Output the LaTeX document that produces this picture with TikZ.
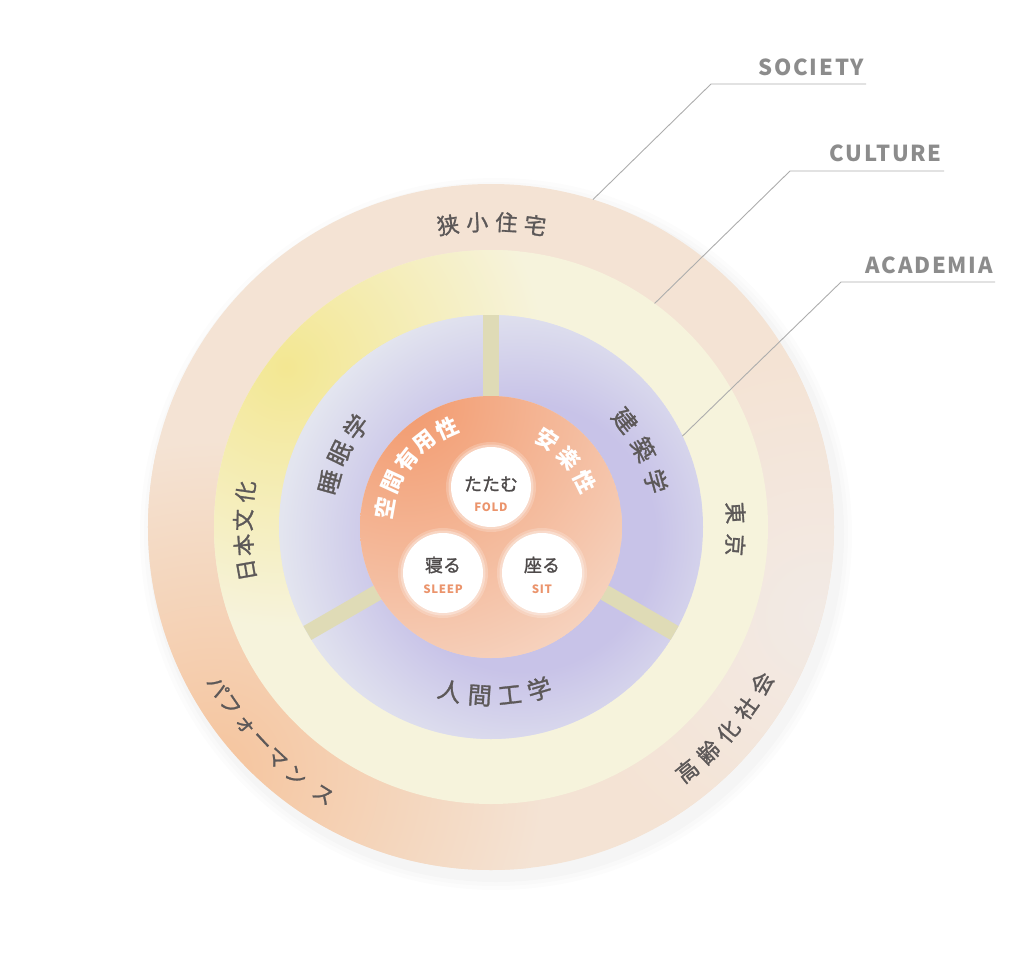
\documentclass[tikz,border=0pt]{standalone}
\usepackage{fontspec}
\newfontfamily\cjk[FakeBold=1.2]{Noto Sans CJK JP}
\newfontfamily\cjkb{Noto Sans CJK JP}
\newfontfamily\latinlab[LetterSpace=8]{Noto Sans CJK JP}
\newfontfamily\latinsub[LetterSpace=6]{Noto Sans CJK JP}
\definecolor{socbase}{HTML}{F4E3D4}
\definecolor{socorange}{HTML}{F5C49D}
\definecolor{socpale}{HTML}{F2EAE5}
\definecolor{culbase}{HTML}{F6F3DC}
\definecolor{culyellow}{HTML}{F3E792}
\definecolor{acadgray}{HTML}{E3E5EF}
\definecolor{acadpurple}{HTML}{C8C3E8}
\definecolor{gapcol}{HTML}{DFDBB6}
\definecolor{coreA}{HTML}{F29A6E}
\definecolor{coreB}{HTML}{F6D5C2}
\definecolor{txt}{HTML}{5C5858}
\definecolor{txtdark}{HTML}{4E4A4A}
\definecolor{subcol}{HTML}{EB946C}
\definecolor{labgray}{HTML}{8C8C8C}
\definecolor{linegray}{HTML}{ADADAD}
\pgfdeclareradialshading{socblob}{\pgfpoint{0bp}{0bp}}{color(0bp)=(socorange); color(25bp)=(socbase); color(50bp)=(socbase)}
\pgfdeclareradialshading{paleblob}{\pgfpoint{0bp}{0bp}}{color(0bp)=(socpale); color(25bp)=(socbase); color(50bp)=(socbase)}
\pgfdeclareradialshading{culblob}{\pgfpoint{0bp}{0bp}}{color(0bp)=(culyellow); color(25bp)=(culbase); color(50bp)=(culbase)}
\pgfdeclareradialshading{acadblob}{\pgfpoint{0bp}{0bp}}{color(0bp)=(acadpurple); color(14bp)=(acadpurple); color(25bp)=(acadgray); color(50bp)=(acadgray)}
\pgfdeclareradialshading{coreblob}{\pgfpoint{0bp}{0bp}}{color(0bp)=(coreA); color(25bp)=(coreB); color(50bp)=(coreB)}
\tikzset{
  soclab/.style={text=txt, font=\cjk\fontsize{22}{22}\selectfont, inner sep=0pt},
  kanalab/.style={text=txt, font=\cjk\fontsize{21}{21}\selectfont, inner sep=0pt},
  cullab/.style={text=txt, font=\cjk\fontsize{22}{22}\selectfont, inner sep=0pt},
  acadlab/.style={text=txt, font=\cjk\fontsize{24}{24}\selectfont, inner sep=0pt},
  corelab/.style={text=white, font=\cjkb\bfseries\fontsize{22}{22}\selectfont, inner sep=0pt},
  actlab/.style={text=txtdark, font=\cjk\fontsize{18}{18}\selectfont, inner sep=0pt},
  actsub/.style={text=subcol, font=\latinsub\bfseries\fontsize{11.5}{11.5}\selectfont, inner sep=0pt},
  actcircle/.style={circle, fill=white, minimum size=80pt, inner sep=0pt},
  leader/.style={draw=linegray, line width=0.9pt},
  layerlab/.style={text=labgray, font=\latinlab\bfseries\fontsize{22}{22}\selectfont, inner sep=0pt, anchor=base east},
}
\begin{document}
\begin{tikzpicture}[x=1pt, y=1pt]
\useasboundingbox (-491,-448) rectangle (533,527);
% soft shadow
\foreach \r/\o in {356/0.01, 352/0.012, 348/0.015}
  \fill[black, opacity=\o] (5,-7) circle (\r);
% SOCIETY ring
\fill[socbase] (0,0) circle (343);
\begin{scope}
  \clip (0,0) circle (343);
  \shade[shading=paleblob] (330,-90) circle (260);
  \shade[shading=socblob] (-276,-243) circle (330);
\end{scope}
% CULTURE ring
\fill[culbase] (0,0) circle (277);
\begin{scope}
  \clip (0,0) circle (277);
  \shade[shading=culblob] (-205,160) circle (260);
\end{scope}
% ACADEMIA sectors
\begin{scope}
  \clip (0,0) circle (212);
  \fill[acadgray] (0,0) circle (212);
  \shade[shading=acadblob] (30,-10) circle (240);
\end{scope}
\foreach \g in {90,210,330}
  \draw[gapcol, line width=16pt] (\g:120) -- (\g:212);
% core
\begin{scope}
  \clip (0,0) circle (131);
  \fill[coreB] (0,0) circle (131);
  \shade[shading=coreblob] (-85,125) circle (300);
\end{scope}
% action circles
\foreach \p/\n in {{(0,40)}/fold, {(-48,-46)}/sleep, {(51,-46)}/sit} {
  \fill[white, opacity=0.2] \p circle (45);
  \fill[white, opacity=0.3] \p circle (42.5);
  \node[actcircle] (c\n) at \p {};
}
\node[actlab] (tFold) at (0,43) {たたむ};
\node[actsub] (sFold) at (0,20) {FOLD};
\node[actlab] (tSleep) at (-48,-38) {寝る};
\node[actsub] (sSleep) at (-48,-62) {SLEEP};
\node[actlab] (tSit) at (51,-38) {座る};
\node[actsub] (sSit) at (51,-62) {SIT};
% core curved labels
\foreach \ch/\a [count=\i] in {空/170,間/155.5,有/141.5,用/128,性/114}
  \node[corelab, rotate=\a-90] (coreL\i) at (\a:108) {\ch};
\foreach \ch/\a [count=\i] in {安/57,楽/41.5,性/26}
  \node[corelab, rotate=\a-90] (coreR\i) at (\a:104) {\ch};
% academia labels
\foreach \ch/\a [count=\i] in {睡/164.5,眠/154,学/143.5}
  \node[acadlab, rotate=\a-90] (acadL\i) at (\a:168) {\ch};
\foreach \ch/\a [count=\i] in {建/38.5,築/27,学/15.5}
  \node[acadlab, rotate=\a-90] (acadR\i) at (\a:171) {\ch};
\foreach \ch/\a [count=\i] in {人/256,間/266.2,工/276.4,学/286.6}
  \node[acadlab, rotate=\a+90] (acadB\i) at (\a:169) {\ch};
% culture labels
\foreach \ch/\a [count=\i] in {日/190,本/184.2,文/178.4,化/171.8}
  \node[cullab, rotate=\a-90] (culL\i) at (\a:248) {\ch};
\foreach \ch/\a [count=\i] in {東/3.3,京/-4.2}
  \node[cullab, rotate=\a-90] (culR\i) at (\a:245) {\ch};
% society labels
\foreach \ch/\a [count=\i] in {狭/98.1,小/92.6,住/87.1,宅/81.7}
  \node[soclab, rotate=\a-90] (socT\i) at (\a:305) {\ch};
\foreach \ch/\a [count=\i] in {パ/210.3,フ/214.3,ォ/218.8,ー/223,マ/227.2,ン/231.9,ス/237.9}
  \node[kanalab, rotate=\a+90] (socL\i) at (\a:316) {\ch};
\foreach \ch/\a [count=\i] in {高/308.8,齢/314,化/319.3,社/324.6,会/330}
  \node[soclab, rotate=\a+90] (socR\i) at (\a:313) {\ch};
% leader lines
\coordinate (socStart) at (72.7:343);
\coordinate (socCorner) at (220,443);
\coordinate (socEnd) at (375,443);
\coordinate (culStart) at (53.8:277);
\coordinate (culCorner) at (299,356);
\coordinate (culEnd) at (453,356);
\coordinate (acaStart) at (25.4:212);
\coordinate (acaCorner) at (350,245);
\coordinate (acaEnd) at (504,245);
\draw[leader] (socStart) -- (socCorner) -- (socEnd);
\draw[leader] (culStart) -- (culCorner) -- (culEnd);
\draw[leader] (acaStart) -- (acaCorner) -- (acaEnd);
\node[layerlab] (socLab) at (373,451) {SOCIETY};
\node[layerlab] (culLab) at (451,365) {CULTURE};
\node[layerlab] (acaLab) at (502,254) {ACADEMIA};
\end{tikzpicture}
\end{document}
